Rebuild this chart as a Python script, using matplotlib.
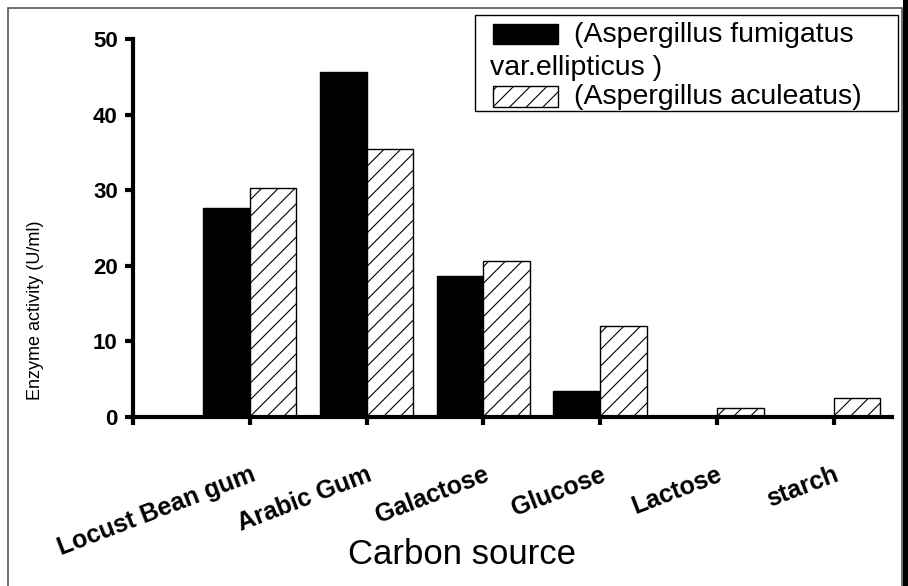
import numpy as np
import matplotlib.pyplot as plt
from matplotlib.patches import Rectangle

plt.rcParams['font.family'] = ['Liberation Sans', 'DejaVu Sans']
plt.rcParams['hatch.linewidth'] = 0.8

# data
sources = ["Locust Bean gum", "Arabic Gum", "Galactose", "Glucose", "Lactose", "starch"]
fumigatus = [27.6, 45.6, 18.7, 3.5, 0, 0]
aculeatus = [30.3, 35.4, 20.7, 12.1, 1.15, 2.5]
yticks = [0, 10, 20, 30, 40, 50]
names = ["(Aspergillus fumigatus", "var.ellipticus )", "(Aspergillus aculeatus)"]

W, H = 908, 586
fig = plt.figure(figsize=(W / 100, H / 100), dpi=100)
ax = fig.add_axes([133 / W, 1 - 417 / H, (892 - 133) / W, (417 - 39) / H])


def px(x0, y0, x1, y1):
    # pixel box (from top left) -> figure fraction rectangle
    return (x0 / W, 1 - y1 / H), (x1 - x0) / W, (y1 - y0) / H


x = np.arange(1, len(sources) + 1)
w = 0.4
ax.bar(x - w / 2, fumigatus, w, color="black", edgecolor="black", linewidth=1)
ax.bar(x + w / 2, aculeatus, w, color="white", edgecolor="black", linewidth=1, hatch="//")

ax.set_xlim(0, 6.5)
ax.set_ylim(0, 50)
ax.set_yticks(yticks)
ax.set_yticklabels([str(t) for t in yticks], fontsize=16, fontweight="bold")
ax.set_xticks(np.arange(0, 7))
ax.set_xticklabels([""] + sources, fontsize=18, fontweight="bold",
                   rotation=21, ha="right", va="top", rotation_mode="anchor")

for s in ["top", "right"]:
    ax.spines[s].set_visible(False)
for s in ["left", "bottom"]:
    ax.spines[s].set_linewidth(3)
ax.tick_params(axis="both", direction="out", length=6, width=3)
ax.tick_params(axis="y", pad=5)
ax.tick_params(axis="x", pad=27)

ax.set_ylabel("Enzyme activity (U/ml)", fontsize=13)
ax.yaxis.set_label_coords(-(133 - 36) / 759, (417 - 310) / 378)
ax.set_xlabel("Carbon source", fontsize=25)
ax.xaxis.set_label_coords((462 - 133) / 759, -(555 - 417) / 378)
ax.xaxis.label.set_va("center")
ax.yaxis.label.set_va("center")

# legend box
tf = fig.transFigure
xy, bw, bh = px(475, 15, 898, 111)
fig.patches.append(Rectangle(xy, bw, bh, transform=tf, fill=False, edgecolor="black", linewidth=1))
xy, bw, bh = px(493, 24, 558, 44)
fig.patches.append(Rectangle(xy, bw, bh, transform=tf, facecolor="black", edgecolor="black"))
xy, bw, bh = px(493, 86, 558, 107)
fig.patches.append(Rectangle(xy, bw, bh, transform=tf, facecolor="white", edgecolor="black",
                             linewidth=1, hatch="//"))
fig.text(574 / W, 1 - 35 / H, names[0], fontsize=20.5, va="center", ha="left")
fig.text(490 / W, 1 - 68 / H, names[1], fontsize=20.5, va="center", ha="left")
fig.text(574 / W, 1 - 97 / H, names[2], fontsize=20.5, va="center", ha="left")

# outer frame of the picture
fig.patches.append(Rectangle((8 / W, -0.1), (902 - 8) / W, 1.1 - 8 / H, transform=tf,
                             fill=False, edgecolor="#555555", linewidth=1.2))
fig.patches.append(Rectangle((903 / W, 0), 5 / W, 1, transform=tf,
                             facecolor="black", edgecolor="none"))

fig.savefig("out.png", dpi=100)
